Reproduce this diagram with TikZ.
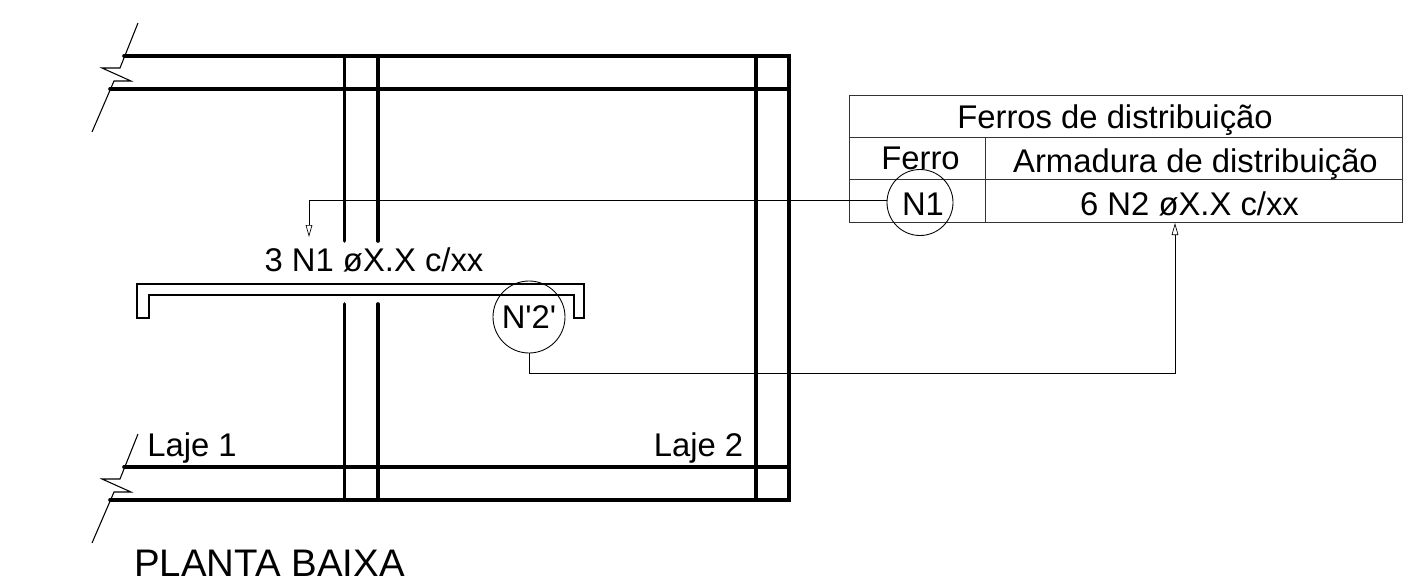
\documentclass[tikz,border=0pt]{standalone}
\usepackage{fontspec}
\setmainfont{Liberation Sans}
\newfontfamily\straightfont{Liberation Sans}
\usetikzlibrary{arrows.meta}
\tikzset{
  x=0.75pt,y=-0.75pt,
  wall/.style={line width=2.7pt,line cap=round,black},
  brk/.style={line width=0.8pt,black,line join=miter},
  bar/.style={line width=0.95pt,black},
  tbl/.style={line width=0.7pt,black!80},
  leader/.style={line width=0.65pt,black},
  tip/.style={-{Triangle[open,length=9pt,width=5pt,line width=0.5pt]}},
  txt/.style={inner sep=0pt,anchor=base,font=\fontsize{24.6pt}{28pt}\selectfont,text=black},
  title/.style={inner sep=0pt,anchor=base,font=\fontsize{28.8pt}{32pt}\selectfont,text=black},
  ringnode/.style={circle,draw,line width=0.65pt,inner sep=0pt}
}
\begin{document}
\begin{tikzpicture}
\useasboundingbox (0,0) rectangle (1425,585);
% walls
\draw[wall] (124,56) -- (789,56) -- (789,500) -- (110,500);
\draw[wall] (110,89) -- (789,89);
\draw[wall] (124,467) -- (789,467);
\draw[wall] (756,56) -- (756,500);
\draw[wall] (344.5,56) -- (344.5,241);
\draw[wall] (378,56) -- (378,241);
\draw[wall] (344.5,304) -- (344.5,500);
\draw[wall] (378,304) -- (378,500);
% break lines
\draw[brk] (138,23) -- (120,68) -- (102,68) -- (131,81) -- (114,81) -- (92,132);
\draw[brk] (138,434) -- (120,479) -- (102,479) -- (131,492) -- (114,492) -- (92,543);
% bar
\draw[bar] (137,318) -- (137,284) -- (584,284) -- (584,318) -- (574,318) -- (574,295) -- (149,295) -- (149,318) -- cycle;
% table
\draw[tbl] (849,95) rectangle (1402,222);
\draw[tbl] (849,137.5) -- (1402,137.5);
\draw[tbl] (849,179.5) -- (1402,179.5);
\draw[tbl] (985.5,137.5) -- (985.5,222);
% text
\node[txt] (head) at (1115,128.5) {Ferros de distribuição};
\node[txt] (ferro) at (920.5,169) {Ferro};
\node[txt] (arm) at (1195.5,172) {Armadura de distribuição};
\node[txt] (val) at (1189.5,215) {6 N2 øX.X c/xx};
\node[txt] (lbl) at (374,271) {3 N1 øX.X c/xx};
\node[txt] (l1) at (192,456) {Laje 1};
\node[txt] (l2) at (698.5,456) {Laje 2};
\node[title] (pb) at (269.5,576) {PLANTA BAIXA};
\node[ringnode,minimum size=49.5pt] (n1) at (920,202.5) {};
\node[ringnode,minimum size=54pt] (n2) at (529,317) {};
\node[txt] (n1t) at (923,215) {N1};
\node[txt] (n2t) at (529,328) {\straightfont N'2'};
% leaders
\coordinate (t1) at (309,237);
\coordinate (t2) at (1175,223);
\draw[leader,tip] (n1.176) -| (t1);
\draw[leader,tip] (n2.south) |- (1175,373) -- (t2);
\end{tikzpicture}
\end{document}
